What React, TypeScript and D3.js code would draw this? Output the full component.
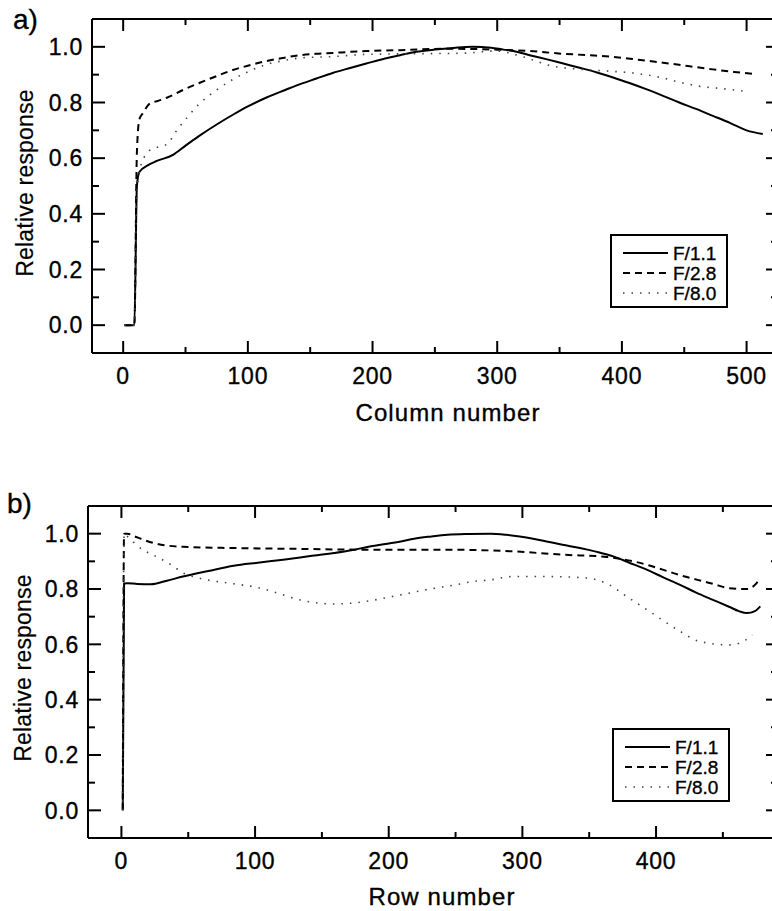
import React from 'react';
import * as d3 from 'd3';

type Pt = [number, number];

// Panel a) — Column number
const colF11: Pt[] = [[1,0],[9,0],[11,0.50],[13,0.55],[20,0.575],[27,0.59],[40,0.612],[50,0.645],[61,0.68],[75,0.721],[88,0.756],[100,0.786],[115,0.818],[130,0.845],[142,0.866],[155,0.886],[168,0.906],[182,0.924],[195,0.94],[210,0.958],[222,0.97],[235,0.982],[250,0.99],[265,0.996],[280,1.0],[295,0.997],[305,0.99],[313,0.985],[326,0.97],[340,0.955],[353,0.94],[366,0.925],[380,0.908],[393,0.89],[406,0.87],[420,0.847],[433,0.824],[446,0.80],[460,0.776],[473,0.752],[487,0.726],[500,0.70],[513,0.687]];
const colF28: Pt[] = [[1,0],[9,0],[11,0.62],[13,0.74],[16,0.763],[21,0.795],[28,0.806],[35,0.817],[48,0.845],[61,0.87],[75,0.895],[88,0.917],[100,0.932],[115,0.949],[128,0.96],[142,0.97],[155,0.975],[168,0.978],[182,0.982],[195,0.985],[222,0.988],[259,0.993],[299,0.99],[326,0.985],[353,0.975],[373,0.97],[393,0.964],[413,0.954],[433,0.943],[453,0.931],[473,0.919],[490,0.91],[505,0.903]];
const colF80: Pt[] = [[1,0],[9,0],[11,0.48],[14,0.57],[17,0.605],[21,0.627],[28,0.64],[35,0.65],[43,0.70],[52,0.75],[61,0.795],[75,0.845],[88,0.883],[100,0.91],[115,0.937],[128,0.95],[142,0.96],[168,0.965],[195,0.973],[230,0.975],[272,0.977],[299,0.985],[320,0.965],[345,0.93],[365,0.92],[388,0.913],[409,0.906],[433,0.888],[447,0.872],[460,0.86],[480,0.85],[500,0.84]];

// Panel b) — Row number
const rowF11: Pt[] = [[1,0],[2,0.82],[4.5,0.821],[12,0.818],[22,0.817],[34,0.83],[46,0.845],[65,0.865],[84,0.884],[102,0.895],[121,0.906],[140,0.918],[159,0.93],[172,0.94],[184,0.952],[194,0.96],[209,0.972],[219,0.982],[232,0.99],[244,0.996],[260,0.999],[276,1.0],[288,0.996],[298,0.99],[308,0.982],[318,0.972],[330,0.96],[343,0.948],[355,0.935],[368,0.918],[380,0.895],[393,0.87],[405,0.843],[418,0.815],[430,0.787],[443,0.76],[455,0.735],[462,0.72],[468,0.713],[474,0.72],[478,0.737]];
const rowF28: Pt[] = [[1,0],[2,1.0],[4.5,1.0],[10,0.99],[16.5,0.978],[25,0.965],[34,0.957],[50,0.952],[84,0.948],[134,0.945],[184,0.942],[244,0.942],[293,0.936],[330,0.924],[363,0.916],[383,0.90],[395,0.885],[405,0.87],[418,0.85],[431,0.833],[443,0.818],[455,0.803],[468,0.80],[474,0.815],[478,0.84]];
const rowF80: Pt[] = [[1,0],[2,1.0],[4.5,0.99],[10,0.965],[16.5,0.94],[23,0.925],[29,0.91],[38,0.885],[46.5,0.857],[55,0.843],[64,0.833],[84,0.819],[104,0.803],[120,0.78],[134,0.76],[159,0.746],[175,0.75],[189,0.76],[210,0.78],[231,0.80],[250,0.815],[263,0.827],[276,0.833],[293,0.845],[318,0.845],[348,0.84],[365,0.815],[378,0.773],[390,0.735],[401,0.70],[417,0.65],[433,0.61],[455,0.598],[465,0.61],[472,0.634]];

const colTicks = [0, 100, 200, 300, 400, 500];
const colMinor = [50, 150, 250, 350, 450];
const rowTicks = [0, 100, 200, 300, 400];
const rowMinor = [50, 150, 250, 350, 450];
const yTicks = [0, 0.2, 0.4, 0.6, 0.8, 1.0];
const yMinor = [0.1, 0.3, 0.5, 0.7, 0.9];
const legendLabels = ['F/1.1', 'F/2.8', 'F/8.0'];

const FONT = '"Liberation Sans", Arial, Helvetica, sans-serif';

const styles = [
  { stroke: '#000', width: 2, dash: undefined as string | undefined },
  { stroke: '#000', width: 2, dash: '7 5' },
  { stroke: '#444', width: 1.6, dash: '1.5 7' },
];

interface PanelProps {
  left: number; right: number; top: number; bottom: number;
  xDomain: [number, number];
  xTicks: number[]; xMinor: number[];
  series: Pt[][];
  xTitle: string; xTitleX: number; xTitleY: number;
  yTitleX: number; yTitleY: number;
  label: string; labelX: number; labelY: number;
  legendX: number; legendY: number;
}

const txt = { fontFamily: FONT, fill: '#000', stroke: '#000', strokeWidth: 0.35 };

function Panel(p: PanelProps) {
  const x = d3.scaleLinear().domain(p.xDomain).range([p.left, p.right]);
  const y = d3.scaleLinear().domain([-0.1, 1.1]).range([p.bottom, p.top]);
  const line = d3.line<Pt>().x(d => x(d[0])).y(d => y(d[1])).curve(d3.curveMonotoneX);
  const tk = { stroke: '#000', strokeWidth: 2 };
  const yFmt = d3.format('.1f');
  return (
    <g>
      <text x={p.labelX} y={p.labelY} fontSize={28} {...txt}>{p.label}</text>
      {p.series.map((s, i) => (
        <path key={i} d={line(s) || ''} fill="none" stroke={styles[i].stroke}
          strokeWidth={styles[i].width} strokeDasharray={styles[i].dash} strokeLinejoin="round" />
      ))}
      <line x1={p.left} x2={p.right} y1={p.top} y2={p.top} {...tk} />
      <line x1={p.left} x2={p.right} y1={p.bottom} y2={p.bottom} {...tk} />
      <line x1={p.left} x2={p.left} y1={p.top} y2={p.bottom} {...tk} />
      <line x1={p.right} x2={p.right} y1={p.top} y2={p.bottom} {...tk} />
      {p.xTicks.map(v => (
        <g key={'xt' + v}>
          <line x1={x(v)} x2={x(v)} y1={p.bottom} y2={p.bottom - 12} {...tk} />
          <line x1={x(v)} x2={x(v)} y1={p.top} y2={p.top + 12} {...tk} />
          <text x={x(v)} y={p.bottom + 31} textAnchor="middle" fontSize={23} letterSpacing={0.8} {...txt}>{v}</text>
        </g>
      ))}
      {p.xMinor.map(v => (
        <g key={'xm' + v}>
          <line x1={x(v)} x2={x(v)} y1={p.bottom} y2={p.bottom - 6} {...tk} />
          <line x1={x(v)} x2={x(v)} y1={p.top} y2={p.top + 6} {...tk} />
        </g>
      ))}
      {yTicks.map(v => (
        <g key={'yt' + v}>
          <line x1={p.left} x2={p.left + 13} y1={y(v)} y2={y(v)} {...tk} />
          <line x1={p.right} x2={p.right - 13} y1={y(v)} y2={y(v)} {...tk} />
          <text x={p.left - 9} y={y(v)} dy="0.36em" textAnchor="end" fontSize={23} letterSpacing={0.8} {...txt}>{yFmt(v)}</text>
        </g>
      ))}
      {yMinor.map(v => (
        <g key={'ym' + v}>
          <line x1={p.left} x2={p.left + 7} y1={y(v)} y2={y(v)} {...tk} />
          <line x1={p.right} x2={p.right - 8} y1={y(v)} y2={y(v)} {...tk} />
        </g>
      ))}
      <text x={p.xTitleX} y={p.xTitleY} textAnchor="middle" fontSize={24} letterSpacing={1.1} {...txt}>{p.xTitle}</text>
      <text transform={`translate(${p.yTitleX},${p.yTitleY}) rotate(-90)`} textAnchor="middle" fontSize={23} letterSpacing={0.2} {...txt} strokeWidth={0.2}>Relative response</text>
      <g transform={`translate(${p.legendX},${p.legendY})`}>
        <rect x={0} y={0} width={116} height={72} fill="#fff" stroke="#000" strokeWidth={2} />
        {legendLabels.map((l, i) => (
          <g key={l} transform={`translate(0,${18 + i * 20})`}>
            <line x1={12} x2={57} y1={0} y2={0} stroke={styles[i].stroke} strokeWidth={styles[i].width} strokeDasharray={styles[i].dash} />
            <text x={62} y={0} dy="0.36em" fontSize={19} {...txt}>{l}</text>
          </g>
        ))}
      </g>
    </g>
  );
}

export default function App() {
  return (
    <svg width={772} height={911} style={{ position: 'absolute', left: 0, top: 0, background: '#fff' }}>
      <rect width={772} height={911} fill="#fff" />
      <Panel left={92} right={779} top={19} bottom={353} xDomain={[-25, 526]}
        xTicks={colTicks} xMinor={colMinor} series={[colF11, colF28, colF80]}
        xTitle="Column number" xTitleX={448} xTitleY={421}
        yTitleX={33} yTitleY={183} label="a)" labelX={13} labelY={29}
        legendX={611} legendY={235} />
      <Panel left={88} right={779} top={506} bottom={838} xDomain={[-25, 492]}
        xTicks={rowTicks} xMinor={rowMinor} series={[rowF11, rowF28, rowF80]}
        xTitle="Row number" xTitleX={442} xTitleY={905}
        yTitleX={31} yTitleY={668} label="b)" labelX={7} labelY={513}
        legendX={613} legendY={729} />
    </svg>
  );
}
